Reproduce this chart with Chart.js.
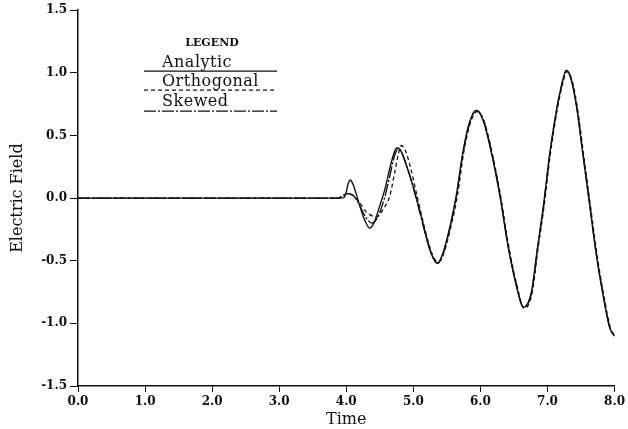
<!DOCTYPE html>
<html>
<head>
<meta charset="utf-8">
<script src="https://cdn.jsdelivr.net/npm/chart.js@4/dist/chart.umd.min.js"></script>
<style>
  html, body { margin: 0; padding: 0; background: #fff; }
  #wrap { width: 628px; height: 429px; }
</style>
</head>
<body>
<div id="wrap"><canvas id="c" width="628" height="429"></canvas></div>
<script>
// ---- Data ----
const xTicks = [0, 1, 2, 3, 4, 5, 6, 7, 8];
const yTicks = [-1.5, -1.0, -0.5, 0.0, 0.5, 1.0, 1.5];

const seriesNames = ["Analytic", "Orthogonal", "Skewed"];

const analyticT = [0, 3.9, 3.97, 4.0, 4.03, 4.06, 4.1, 4.15, 4.2, 4.27, 4.35, 4.42, 4.5, 4.58, 4.65, 4.7, 4.75, 4.8, 4.87, 5.0, 5.1, 5.2, 5.28, 5.36, 5.44, 5.54, 5.64, 5.74, 5.84, 5.94, 6.04, 6.14, 6.29, 6.41, 6.54, 6.64, 6.76, 6.85, 6.94, 7.03, 7.13, 7.21, 7.28, 7.35, 7.43, 7.53, 7.63, 7.73, 7.83, 7.93, 8.0];
const analyticE = [0, 0, 0.005, 0.05, 0.12, 0.145, 0.11, 0.03, -0.06, -0.17, -0.24, -0.19, -0.06, 0.08, 0.24, 0.34, 0.40, 0.39, 0.30, 0.09, -0.11, -0.32, -0.46, -0.52, -0.44, -0.24, 0.02, 0.37, 0.61, 0.70, 0.62, 0.42, 0.02, -0.38, -0.71, -0.87, -0.75, -0.40, -0.06, 0.34, 0.69, 0.90, 1.02, 0.95, 0.74, 0.34, -0.06, -0.46, -0.78, -1.04, -1.10];

const orthogonalT = [0, 3.88, 3.95, 4.02, 4.1, 4.2, 4.3, 4.45, 4.55, 4.65, 4.72, 4.78, 4.82, 4.88, 4.95, 5.05, 5.15, 5.25, 5.32, 5.38, 5.46, 5.56, 5.66, 5.75, 5.85, 5.95, 6.05, 6.15, 6.3, 6.42, 6.55, 6.65, 6.77, 6.86, 6.95, 7.04, 7.14, 7.22, 7.29, 7.36, 7.44, 7.54, 7.64, 7.74, 7.84, 7.94, 8.0];
const orthogonalE = [0, 0, 0.02, 0.035, 0.02, -0.04, -0.11, -0.15, -0.09, 0.02, 0.20, 0.36, 0.42, 0.38, 0.26, 0.03, -0.20, -0.40, -0.49, -0.51, -0.43, -0.23, 0.03, 0.36, 0.60, 0.69, 0.62, 0.42, 0.02, -0.38, -0.71, -0.88, -0.76, -0.40, -0.06, 0.34, 0.69, 0.90, 1.01, 0.95, 0.74, 0.34, -0.06, -0.46, -0.78, -1.04, -1.11];

const skewedT = [0, 3.88, 3.95, 4.02, 4.08, 4.15, 4.2, 4.3, 4.38, 4.46, 4.57, 4.65, 4.72, 4.77, 4.83, 4.9, 5.0, 5.1, 5.2, 5.28, 5.36, 5.44, 5.54, 5.64, 5.74, 5.84, 5.94, 6.04, 6.14, 6.29, 6.41, 6.54, 6.64, 6.76, 6.85, 6.94, 7.03, 7.13, 7.21, 7.28, 7.35, 7.43, 7.53, 7.63, 7.73, 7.83, 7.93, 8.0];
const skewedE = [0, 0, 0.02, 0.035, 0.03, -0.01, -0.06, -0.16, -0.20, -0.16, 0.0, 0.18, 0.34, 0.39, 0.36, 0.26, 0.08, -0.12, -0.33, -0.46, -0.52, -0.45, -0.25, 0.01, 0.36, 0.60, 0.70, 0.63, 0.43, 0.03, -0.37, -0.70, -0.87, -0.76, -0.41, -0.07, 0.33, 0.68, 0.90, 1.02, 0.96, 0.75, 0.35, -0.05, -0.45, -0.77, -1.03, -1.10];

// ---- Build datasets ----
const toPts = (ts, vs) => ts.map((t, i) => ({ x: t, y: vs[i] }));
const INK = '#111111';

const datasets = [
  { label: seriesNames[0], data: toPts(analyticT, analyticE), borderColor: INK, borderWidth: 1.4, borderDash: [] },
  { label: seriesNames[1], data: toPts(orthogonalT, orthogonalE), borderColor: INK, borderWidth: 1.3, borderDash: [4, 3] },
  { label: seriesNames[2], data: toPts(skewedT, skewedE), borderColor: INK, borderWidth: 1.4, borderDash: [12, 2, 2, 2] }
].map(d => Object.assign(d, { pointRadius: 0, fill: false, cubicInterpolationMode: 'monotone' }));

// ---- Legend drawn like the reference (text above a styled rule) ----
const legendPlugin = {
  id: 'paperLegend',
  afterDraw(chart) {
    const { ctx, chartArea } = chart;
    const x0 = chartArea.left + 66;
    const x1 = chartArea.left + 199;
    const textX = chartArea.left + 84;
    const top = chartArea.top;
    ctx.save();
    ctx.fillStyle = INK;
    ctx.font = 'bold 11px "DejaVu Serif"';
    ctx.textAlign = 'center';
    ctx.textBaseline = 'middle';
    ctx.fillText('LEGEND', chartArea.left + 134, top + 33);
    const rows = [
      { text: seriesNames[0], ds: datasets[0], ty: top + 53, ly: top + 61 },
      { text: seriesNames[1], ds: datasets[1], ty: top + 72, ly: top + 80 },
      { text: seriesNames[2], ds: datasets[2], ty: top + 92, ly: top + 101 }
    ];
    ctx.textAlign = 'left';
    ctx.font = '16px "DejaVu Serif"';
    try { ctx.letterSpacing = '0.5px'; } catch (e) {}
    rows.forEach(r => {
      ctx.fillText(r.text, textX, r.ty);
      ctx.beginPath();
      ctx.setLineDash(r.ds.borderDash);
      ctx.lineWidth = 1.3;
      ctx.strokeStyle = INK;
      ctx.moveTo(x0, r.ly);
      ctx.lineTo(x1, r.ly);
      ctx.stroke();
    });
    ctx.restore();
  }
};

const tickFont = { family: '"DejaVu Serif"', size: 12, weight: 'bold' };

new Chart(document.getElementById('c'), {
  type: 'line',
  data: { datasets },
  options: {
    responsive: false,
    animation: false,
    layout: { padding: { top: 10, right: 13, left: 0, bottom: 0 } },
    plugins: { legend: { display: false }, tooltip: { enabled: false } },
    scales: {
      x: {
        type: 'linear', min: 0, max: 8,
        afterBuildTicks: s => { s.ticks = xTicks.map(v => ({ value: v })); },
        afterFit: s => { s.height = 43; },
        ticks: { color: INK, font: tickFont, padding: 3, maxRotation: 0, callback: v => Number(v).toFixed(1) },
        grid: { display: true, drawOnChartArea: false, drawTicks: true, tickLength: 6, color: INK, lineWidth: 1 },
        border: { display: true, color: INK, width: 1.5 },
        title: { display: true, text: 'Time', color: INK, font: { family: '"DejaVu Serif"', size: 16 }, padding: { top: 2, bottom: 0 } }
      },
      y: {
        type: 'linear', min: -1.5, max: 1.5,
        afterBuildTicks: s => { s.ticks = yTicks.map(v => ({ value: v })); },
        afterFit: s => { s.width = 78; },
        ticks: { color: INK, font: tickFont, padding: 3, callback: v => Number(v).toFixed(1) },
        grid: { display: true, drawOnChartArea: false, drawTicks: true, tickLength: 8, color: INK, lineWidth: 1 },
        border: { display: true, color: INK, width: 1.5 },
        title: { display: true, text: 'Electric Field', color: INK, font: { family: '"DejaVu Serif"', size: 16 }, padding: { top: 8, bottom: 2 } }
      }
    }
  },
  plugins: [legendPlugin]
});
</script>
</body>
</html>
